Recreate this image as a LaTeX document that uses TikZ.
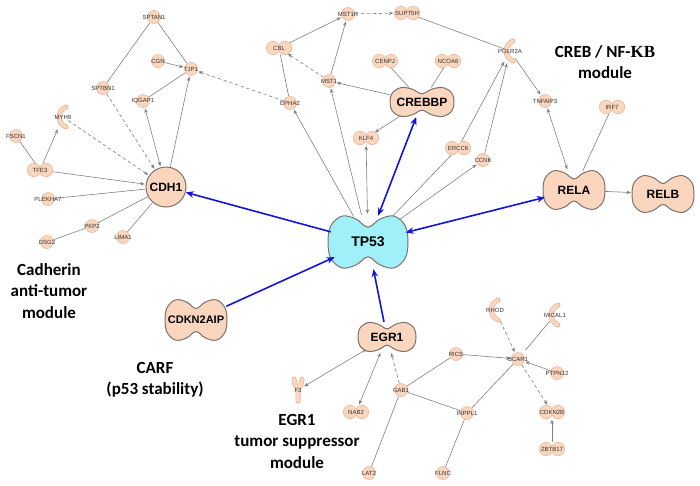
\documentclass[tikz,border=0pt]{standalone}
\usepackage{fontspec}
\setmainfont{Liberation Sans}
\newfontfamily\modfont{Carlito}
\newfontfamily\kbfont{Liberation Serif}
\usetikzlibrary{shapes.geometric, arrows.meta, backgrounds}

\definecolor{genefill}{RGB}{250,214,190}
\definecolor{geneline}{RGB}{228,178,150}
\definecolor{shapeline}{RGB}{125,112,105}
\definecolor{tpfill}{RGB}{160,240,250}
\definecolor{linkgray}{RGB}{128,128,128}
\definecolor{arrowblue}{RGB}{20,20,215}
\definecolor{labelgray}{RGB}{50,50,50}

% two joined circles: name, position, text
\newcommand{\twin}[3]{%
  \begin{scope}[shift={#2}]
    \fill[geneline] (-6,0) circle (7) (6,0) circle (7);
    \fill[genefill] (-6,0) circle (6.4) (6,0) circle (6.4);
  \end{scope}
  \node[twinnode, label={[genetext]center:#3}] (#1) at #2 {};}
% crescent: name, position, text
\newcommand{\crescent}[3]{%
  \begin{scope}[shift={#2}]
    \draw[geneline, line width=5pt, line cap=round] (3,-10) .. controls (-6,-6) and (-6,6) .. (3,10);
    \draw[genefill, line width=3.8pt, line cap=round] (3,-10) .. controls (-6,-6) and (-6,6) .. (3,10);
  \end{scope}
  \node[shapenode, minimum width=10pt, minimum height=22pt, label={[genetext]center:#3}] (#1) at #2 {};}
% receptor (Y): name, position, text
\newcommand{\receptor}[3]{%
  \begin{scope}[shift={#2}]
    \draw[geneline, line width=5pt, line cap=round, line join=round] (-4,-11) -- (-3,-5) -- (0,-3) -- (3,-5) -- (4,-11) (0,-3) -- (0,11);
    \draw[genefill, line width=3.8pt, line cap=round, line join=round] (-4,-11) -- (-3,-5) -- (0,-3) -- (3,-5) -- (4,-11) (0,-3) -- (0,11);
  \end{scope}
  \node[shapenode, minimum width=10pt, minimum height=24pt, label={[genetext]center:#3}] (#1) at #2 {};}
% big peanut: name, position, half width, half height, fill, text
\newcommand{\peanut}[6]{%
  \draw[bigshape, fill=#5, shift={#2}, xscale=#3, yscale=#4] plot[smooth cycle, tension=0.6] coordinates {(-1,0) (-0.93,0.6) (-0.65,0.96) (-0.3,0.85) (0,0.55) (0.3,0.85) (0.65,0.96) (0.93,0.6) (1,0) (0.93,-0.6) (0.65,-0.96) (0.3,-0.85) (0,-0.55) (-0.3,-0.85) (-0.65,-0.96) (-0.93,-0.6)};
  \node[bignode, minimum width=2*#3pt, minimum height=2*#4pt] (#1) at #2 {#6};}

\begin{document}
\begin{tikzpicture}[x=1pt, y=-1pt,
gene/.style={circle, draw=geneline, fill=genefill, line width=0.5pt, minimum size=13pt, inner sep=0pt},
twinnode/.style={ellipse, minimum width=25pt, minimum height=13pt, inner sep=0pt},
shapenode/.style={inner sep=0pt},
genetext/.style={font=\fontsize{6}{7}\selectfont, text=labelgray, inner sep=0pt},
bignode/.style={ellipse, inner sep=0pt, font=\fontsize{12}{14}\selectfont\bfseries},
bigshape/.style={draw=shapeline, line width=1pt},
modlabel/.style={align=center, font=\modfont\bfseries\fontsize{17}{21.5}\selectfont},
tie/.style={draw=linkgray, line width=0.6pt},
link/.style={tie, ->, shorten >=1pt},
both/.style={tie, <->, shorten >=1pt, shorten <=1pt},
dashlink/.style={link, dash pattern=on 3.5pt off 2.5pt},
bluelink/.style={draw=arrowblue, line width=1.6pt, >={Stealth[length=8pt, width=6.5pt]}},
>={Stealth[length=4.5pt, width=3.5pt]},
]
\useasboundingbox (0,0) rectangle (700,485);
%nodes: cadherin module
\node[gene, label={[genetext]center:SPTAN1}] (sptan1) at (154,17) {};
\node[gene, label={[genetext]center:CGN}] (cgn) at (158,61) {};
\node[gene, label={[genetext]center:TJP1}] (tjp1) at (191,69) {};
\node[gene, label={[genetext]center:SPTBN1}] (sptbn1) at (103,88) {};
\node[gene, label={[genetext]center:IQGAP1}] (iqgap1) at (143,101) {};
\crescent{myh9}{(63,117)}{MYH9}
\node[gene, label={[genetext]center:FSCN1}] (fscn1) at (16,136) {};
\twin{tfe3}{(40,170)}{TFE3}
\node[gene, label={[genetext]center:PLEKHA7}] (plekha7) at (48,199) {};
\node[gene, label={[genetext]center:PKP2}] (pkp2) at (92,226) {};
\node[gene, label={[genetext]center:DSG2}] (dsg2) at (47,242) {};
\node[gene, label={[genetext]center:LIMA1}] (lima1) at (123,237) {};
\node[gene, circle, minimum size=40pt, font=\fontsize{12}{14}\selectfont\bfseries, draw=shapeline, line width=1pt] (cdh1) at (166,187) {CDH1};
%nodes: top
\node[gene, label={[genetext]center:MST1R}] (mst1r) at (348,14) {};
\twin{supt5h}{(407,13)}{SUPT5H}
\twin{cbl}{(279,48)}{CBL}
\node[gene, label={[genetext]center:MST1}] (mst1) at (329,81) {};
\node[gene, label={[genetext]center:EPHA2}] (epha2) at (290,103) {};
\twin{cenpj}{(385,61)}{CENPJ}
\twin{ncoa6}{(448,61)}{NCOA6}
\twin{klf4}{(366,138)}{KLF4}
\twin{ercc6}{(458,148)}{ERCC6}
\peanut{crebbp}{(422,102)}{32}{15}{genefill}{CREBBP}
%nodes: creb / nf-kb module
\crescent{polr2a}{(510,51)}{POLR2A}
\node[gene, label={[genetext]center:TNFAIP3}] (tnfaip3) at (545,101) {};
\twin{irf7}{(612,107)}{IRF7}
\node[gene, label={[genetext]center:CCNK}] (ccnk) at (483,160) {};
\peanut{rela}{(574,190)}{31}{20}{genefill}{RELA}
\peanut{relb}{(663,194)}{31}{19}{genefill}{RELB}
%nodes: centre
\peanut{tp53}{(368,242)}{40}{27}{tpfill}{\fontsize{14}{16}\selectfont TP53}
\peanut{cdkn2aip}{(196,320)}{31}{21}{genefill}{\fontsize{11}{13}\selectfont CDKN2AIP}
%nodes: egr1 module
\peanut{egr1}{(387,337)}{29}{15}{genefill}{EGR1}
\receptor{f3}{(298,390)}{F3}
\twin{nab2}{(356,412)}{NAB2}
\node[gene, label={[genetext]center:GAB1}] (gab1) at (401,390) {};
\node[gene, label={[genetext]center:RICS}] (rics) at (456,354) {};
\node[gene, label={[genetext]center:LAT2}] (lat2) at (369,473) {};
\node[gene, label={[genetext]center:FLNC}] (flnc) at (443,473) {};
\node[gene, label={[genetext]center:INPPL1}] (inppl1) at (467,413) {};
\node[gene, label={[genetext]center:BCAR1}] (bcar1) at (518,359) {};
\node[gene, label={[genetext]center:PTPN12}] (ptpn12) at (557,373) {};
\crescent{rhod}{(495,310)}{RHOD}
\crescent{mical1}{(555,315)}{MICAL1}
\twin{cdkn2b}{(552,412)}{CDKN2B}
\twin{zbtb17}{(552,449)}{ZBTB17}
%module labels
\node[modlabel] (cadherin) at (49,291) {Cadherin\\anti-tumor\\module};
\node[modlabel] (carf) at (155,380) {CARF\\(p53 stability)};
\node[modlabel] (egrmod) at (297,441) {EGR1\\tumor suppressor\\module};
\node[modlabel] (crebmod) at (605,62) {CREB / NF-{\kbfont KB}\\module};
%connections
\begin{scope}[on background layer]
\draw[tie] (sptan1) -- (sptbn1);
\draw[tie] (sptan1) -- (tjp1);
\draw[link] (cgn) -- (tjp1);
\draw[tie] (tjp1) -- (iqgap1);
\draw[link] (cdh1) -- (tjp1);
\draw[both] (cdh1) -- (iqgap1);
\draw[dashlink] (sptbn1) -- (cdh1);
\draw[dashlink] (myh9) -- (cdh1);
\draw[link] (tfe3) -- (myh9);
\draw[tie] (fscn1) -- (tfe3);
\draw[link] (tfe3) -- (cdh1);
\draw[tie] (plekha7) -- (cdh1);
\draw[tie] (dsg2) -- (pkp2);
\draw[tie] (pkp2) -- (cdh1);
\draw[tie] (lima1) -- (cdh1);
\draw[dashlink] (epha2) -- (tjp1);
\draw[tie] (epha2) -- (cbl);
\draw[link] (cbl) -- (mst1r);
\draw[dashlink] (mst1) -- (cbl);
\draw[link] (mst1) -- (mst1r);
\draw[dashlink] (mst1r) -- (supt5h);
\draw[tie] (supt5h) -- (polr2a);
\draw[link] (crebbp) -- (mst1);
\draw[tie] (cenpj) -- (crebbp);
\draw[tie] (ncoa6) -- (crebbp);
\draw[link] (crebbp) -- (klf4);
\draw[link] (tp53) -- (epha2);
\draw[link] (tp53) -- (mst1);
\draw[both] (tp53) -- (klf4);
\draw[tie] (tp53) -- (ercc6);
\draw[link] (ercc6) -- (polr2a);
\draw[link] (tp53) -- (ccnk);
\draw[link] (ccnk) -- (polr2a);
\draw[link] (polr2a) -- (tnfaip3);
\draw[both] (tnfaip3) -- (rela);
\draw[tie] (irf7) -- (rela);
\draw[link] (rela) -- (relb);
\draw[both] (egr1) -- (f3);
\draw[both] (egr1) -- (nab2);
\draw[dashlink] (gab1) -- (egr1);
\draw[tie] (gab1) -- (rics);
\draw[tie] (gab1) -- (inppl1);
\draw[tie] (gab1) -- (lat2);
\draw[tie] (inppl1) -- (flnc);
\draw[tie] (inppl1) -- (bcar1);
\draw[link] (rics) -- (bcar1);
\draw[dashlink] (rhod) -- (bcar1);
\draw[tie, shorten >=5pt] (mical1) -- (bcar1);
\draw[link] (ptpn12) -- (bcar1);
\draw[dashlink] (bcar1) -- (cdkn2b);
\draw[link] (zbtb17) -- (cdkn2b);
\end{scope}
%tp53 links
\draw[bluelink, ->] (tp53) -- (cdh1);
\draw[bluelink, <->] (tp53) -- (crebbp);
\draw[bluelink, <->] (tp53) -- (rela);
\draw[bluelink, ->] (cdkn2aip) -- (tp53);
\draw[bluelink, ->] (egr1) -- (tp53);
\end{tikzpicture}
\end{document}
